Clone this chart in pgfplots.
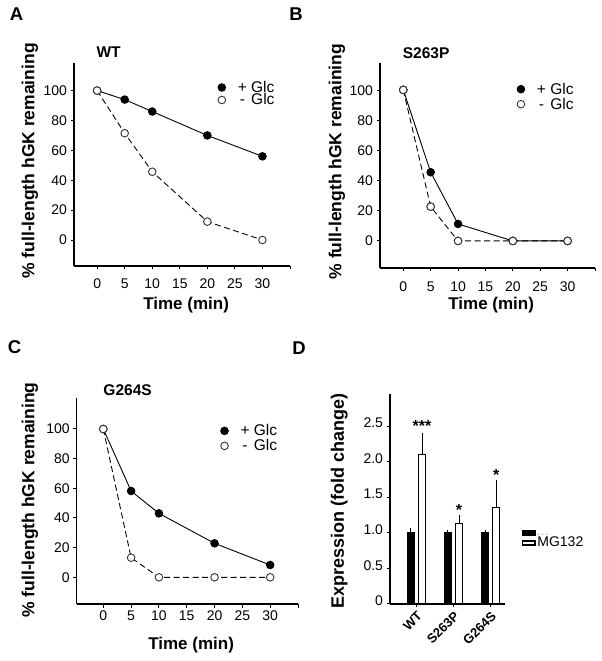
\documentclass[border=0pt]{standalone}
\usepackage{fontspec}
\setmainfont{Liberation Sans}
\usepackage{pgfplots}
\pgfplotsset{compat=1.18}
\usepackage{pgfplotstable}

\pgfplotstableread{
x y
0 100
5 94
10 86
20 70
30 56
}\dataAplus
\pgfplotstableread{
x y
0 100
5 71.5
10 45.7
20 12.3
30 0
}\dataAminus
\pgfplotstableread{
x y
0 100.5
5 45.7
10 11.3
20 0
30 0
}\dataBplus
\pgfplotstableread{
x y
0 100.5
5 22.8
10 0
20 0
30 0
}\dataBminus
\pgfplotstableread{
x y
0 100
5 58.2
10 43.1
20 22.9
30 8.3
}\dataCplus
\pgfplotstableread{
x y
0 100
5 13.2
10 0
20 0
30 0
}\dataCminus
\pgfplotstableread{
x y e
-0.15 1.0 0.03
0.85 1.0 0.0
1.85 1.0 0.0
}\dataDctrl
\pgfplotstableread{
x y e
0.15 2.10 0.26
1.15 1.13 0.09
2.15 1.36 0.34
}\dataDmg

\begin{document}
\begin{tikzpicture}[x=1pt,y=1pt]
\useasboundingbox (0,0) rectangle (602,661);
\pgfplotsset{
  every axis title shift=0pt,
  panel/.style={
    scale only axis,
    axis lines=left, axis line style={-, line width=1.2pt},
    tick align=outside, major tick length=3.5pt, tick style={line width=1pt, black},
    xmax=35, xtick={0,5,...,35}, xticklabels={0,5,10,15,20,25,30,{}},
    ytick={0,20,...,100},
    ticklabel style={font=\fontsize{14}{16}\selectfont},
    /pgf/number format/assume math mode=true,
    xlabel={Time (min)}, ylabel={\% full-length hGK remaining},
    xlabel style={font=\bfseries\fontsize{17}{19}\selectfont, anchor=center},
    ylabel style={font=\bfseries\fontsize{17.5}{19}\selectfont, anchor=center},
    title style={font=\bfseries\fontsize{15.5}{17}\selectfont, anchor=west, yshift=0pt},
    legend style={draw=none, fill=none, inner sep=0pt, anchor=north west,
      font=\fontsize{15.5}{17}\selectfont,
      nodes={inner ysep=0.5pt, inner xsep=1pt, text height=10pt, text depth=0pt}},
    legend cell align=left,
    legend image code/.code={\draw[##1,only marks] plot coordinates {(0pt,0pt)}; \path[draw=none,fill=none] (-4pt,0pt) rectangle (15pt,0.1pt);},
    clip=false,
  },
  plus/.style={black, line width=0.9pt, mark=*, mark size=3.8pt, mark options={solid, fill=black}},
  minus/.style={black, line width=0.9pt, dash pattern=on 6pt off 3.5pt, mark=*, mark size=3.8pt, mark options={solid, fill=white, draw=black!80}},
}

% Panel A
\begin{axis}[panel, at={(74pt,395pt)}, anchor=south west, width=216pt, height=203.3pt,
  xmin=-4.2, ymin=-17.4, ymax=118.7,
  title={WT}, title style={at={(axis description cs:0.088,1.053)}},
  xlabel style={at={(axis description cs:0.519,-0.192)}},
  ylabel style={at={(axis description cs:-0.204,0.517)}},
  xticklabel style={yshift=-5.5pt},
  legend style={at={(axis description cs:0.665,0.906)}, row sep=1.5pt}]
\addplot[plus] table[x=x,y=y] {\dataAplus};
\addlegendentry{+ Glc}
\addplot[minus] table[x=x,y=y] {\dataAminus};
\addlegendentry{\makebox[0.584em]{-} Glc}
\end{axis}

% Panel B
\begin{axis}[panel, at={(380pt,393pt)}, anchor=south west, width=215pt, height=205pt,
  xmin=-4.25, ymin=-18, ymax=118.4,
  title={S263P}, title style={at={(axis description cs:0.09,1.047)}},
  xlabel style={at={(axis description cs:0.517,-0.18)}},
  ylabel style={at={(axis description cs:-0.201,0.519)}},
  xticklabel style={yshift=-7pt},
  legend style={at={(axis description cs:0.636,0.9)}, row sep=4pt}]
\addplot[minus] table[x=x,y=y] {\dataBminus};
\addplot[plus] table[x=x,y=y] {\dataBplus};
\addplot[minus, draw=none] table[x=x,y=y] {\dataBminus};
\legend{,+ Glc,\makebox[0.584em]{-} Glc}
\end{axis}

% Panel C
\begin{axis}[panel, at={(76.7pt,57pt)}, anchor=south west, width=221.3pt, height=206pt,
  xmin=-4.78, ymin=-18, ymax=120.9,
  title={G264S}, title style={at={(axis description cs:0.105,1.039)}},
  xlabel style={at={(axis description cs:0.517,-0.199)}},
  ylabel style={at={(axis description cs:-0.211,0.505)}},
  legend style={at={(axis description cs:0.649,0.868)}, row sep=4pt}]
\addplot[plus] table[x=x,y=y] {\dataCplus};
\addlegendentry{+ Glc}
\addplot[minus] table[x=x,y=y] {\dataCminus};
\addlegendentry{\makebox[0.584em]{-} Glc}
\end{axis}

% Panel D
\begin{axis}[scale only axis, at={(390pt,57pt)}, anchor=south west, width=115pt, height=210pt,
  xmin=-0.716, xmax=2.39, ymin=0, ymax=2.95,
  axis lines=left, axis line style={-, line width=1.2pt},
  tick align=outside, major tick length=3.5pt, tick style={line width=1pt, black},
  ytick={0,0.5,1,1.5,2,2.5}, yticklabels={0,0.5,1.0,1.5,2.0,2.5},
  xtick={0,1,2}, xticklabels={WT,S263P,G264S},
  yticklabel style={font=\fontsize{14}{16}\selectfont, yshift=3pt},
  xticklabel style={rotate=45, anchor=north east, font=\bfseries\fontsize{13}{15}\selectfont, inner sep=2pt},
  ylabel={Expression (fold change)},
  ylabel style={font=\bfseries\fontsize{18}{20}\selectfont, at={(axis description cs:-0.441,0.491)}, anchor=center},
  clip=false,
  legend style={draw=none, fill=none, inner sep=0pt, anchor=north west,
    at={(axis description cs:1.145,0.356)}, row sep=3pt,
    nodes={inner ysep=0pt, inner xsep=1.5pt, text height=7pt, text depth=0pt}},
  legend cell align=left,
  legend image code/.code={\draw[#1, line width=1.5pt] (0.75pt,-2pt) rectangle (13.25pt,2pt);},
]
\addplot[ybar, bar width=0.2, bar shift=0pt, fill=black, draw=black, line width=0.8pt,
  error bars/.cd, y dir=plus, y explicit, error mark=-, error mark options={mark size=2.5pt, line width=1pt, black},
  error bar style={line width=1pt, black}]
  table[x=x,y=y,y error=e] {\dataDctrl};
\addlegendentry{\textcolor{black!60}{\fontsize{7}{8}\selectfont - - -}}
\addplot[ybar, bar width=0.2, bar shift=0pt, fill=white, draw=black, line width=1.2pt,
  error bars/.cd, y dir=plus, y explicit, error mark=-, error mark options={mark size=2.5pt, line width=1pt, black},
  error bar style={line width=1pt, black}]
  table[x=x,y=y,y error=e] {\dataDmg};
\addlegendentry{\fontsize{14}{14}\selectfont MG132}
\node[font=\bfseries\fontsize{16}{16}\selectfont, anchor=north, inner sep=0pt] at (axis cs:0.15,2.58) {***};
\node[font=\bfseries\fontsize{16}{16}\selectfont, anchor=north, inner sep=0pt] at (axis cs:1.15,1.40) {*};
\node[font=\bfseries\fontsize{16}{16}\selectfont, anchor=north, inner sep=0pt] at (axis cs:2.15,1.89) {*};
\end{axis}

% Panel letters
\node[font=\bfseries\fontsize{18.5}{20}\selectfont] at (16.5,646.5) {A};
\node[font=\bfseries\fontsize{18.5}{20}\selectfont] at (296,646.5) {B};
\node[font=\bfseries\fontsize{18.5}{20}\selectfont] at (14.5,314) {C};
\node[font=\bfseries\fontsize{18.5}{20}\selectfont] at (299,313) {D};
\end{tikzpicture}
\end{document}
